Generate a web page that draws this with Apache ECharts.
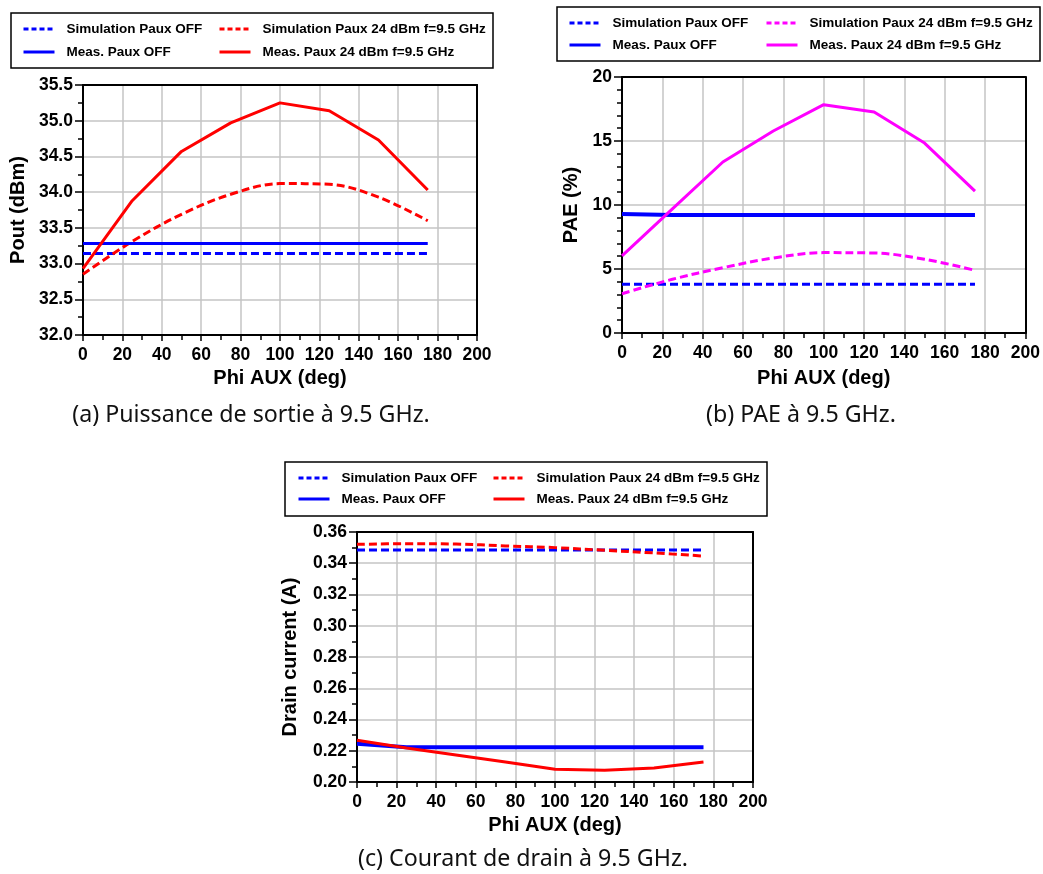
<!DOCTYPE html>
<html><head><meta charset="utf-8">
<script src="https://cdn.jsdelivr.net/npm/echarts@6/dist/echarts.min.js"></script>
<style>
html,body{margin:0;padding:0;background:#fff;width:1043px;height:874px;overflow:hidden;position:relative}
.ch{position:absolute}
.cap{position:absolute;font-family:"Noto Sans",sans-serif;font-size:23.2px;color:#111;white-space:nowrap;transform:translate(-50%,-50%)}
</style></head><body>
<div id="ca" class="ch" style="left:0;top:0;width:520px;height:400px"></div>
<div id="cb" class="ch" style="left:520px;top:0;width:523px;height:400px"></div>
<div id="cc" class="ch" style="left:260px;top:450px;width:520px;height:400px"></div>
<div class="cap" style="left:251px;top:413px">(a) Puissance de sortie à 9.5 GHz.</div>
<div class="cap" style="left:801px;top:413px">(b) PAE à 9.5 GHz.</div>
<div class="cap" style="left:523px;top:857px">(c) Courant de drain à 9.5 GHz.</div>
<script>
// ---- data ----
const seriesNames = ['Simulation Paux OFF', 'Simulation Paux 24 dBm f=9.5 GHz', 'Meas. Paux OFF', 'Meas. Paux 24 dBm f=9.5 GHz'];
const phiAux = [0, 25, 50, 75, 100, 125, 150, 175];
const xTicks = [0, 200, 20];

const poutSimOff  = [33.14, 33.14, 33.14, 33.14, 33.14, 33.14, 33.14, 33.14];
const poutMeasOff = [33.28, 33.28, 33.28, 33.28, 33.28, 33.28, 33.28, 33.28];
const poutSim24   = [32.85, 33.31, 33.69, 33.97, 34.12, 34.11, 33.93, 33.60];
const poutMeas24  = [32.93, 33.88, 34.57, 34.97, 35.25, 35.14, 34.73, 34.03];
const poutTicks = [32.0, 35.5, 0.5];

const paeSimOff  = [3.8, 3.8, 3.8, 3.8, 3.8, 3.8, 3.8, 3.8];
const paeMeasOff = [9.3, 9.22, 9.22, 9.22, 9.22, 9.22, 9.22, 9.22];
const paeSim24   = [3.07, 4.2, 5.1, 5.86, 6.28, 6.25, 5.76, 4.9];
const paeMeas24  = [6.02, 9.69, 13.36, 15.78, 17.84, 17.27, 14.84, 11.09];
const paeTicks = [0, 20, 5];

const idSimOff  = [0.3485, 0.3485, 0.3485, 0.3485, 0.3485, 0.3485, 0.3485, 0.3485];
const idMeasOff = [0.2245, 0.2222, 0.2222, 0.2222, 0.2222, 0.2222, 0.2222, 0.2222];
const idSim24   = [0.3521, 0.3525, 0.3523, 0.3511, 0.3500, 0.3483, 0.3466, 0.3446];
const idMeas24  = [0.2267, 0.2218, 0.2173, 0.2128, 0.2081, 0.2075, 0.2089, 0.2128];
const idTicks = [0.20, 0.36, 0.02];

const BLUE = '#0000ff', RED = '#ff0000', MAG = '#ff00ff';
const FONT = '"Liberation Sans", Arial, sans-serif';

function pairs(xs, ys) { return xs.map((x, i) => [x, ys[i]]); }

function build(cfg) {
  const g = cfg.grid;
  const legendItem = (name, left, top, dashed) => ({
    data: [name], left: left, top: top, orient: 'horizontal', padding: 0,
    itemWidth: 31, itemHeight: 14, selectedMode: false,
    itemStyle: { opacity: 0 },
    lineStyle: dashed ? { type: [5, 3], width: 3 } : { type: 'solid', width: 3 },
    textStyle: { fontFamily: FONT, fontWeight: 'bold', fontSize: 13.5, color: '#000', padding: [0, 0, 0, 7] }
  });
  const L = cfg.legend;
  const mkSeries = (name, data, color, dashed, width, smooth) => ({
    name: name, type: 'line', data: data, symbol: 'none', smooth: smooth ? 0.35 : false,
    lineStyle: { color: color, width: width, type: dashed ? [8, 4] : 'solid' },
    itemStyle: { color: color }, animation: false, z: dashed ? 3 : 4
  });
  const axisLabelStyle = { fontFamily: FONT, fontWeight: 'bold', fontSize: 17.5, color: '#000' };
  return {
    animation: false,
    grid: { left: g[0], top: g[1], width: g[2], height: g[3], containLabel: false },
    legend: [
      legendItem(seriesNames[0], L.x1, L.y1, true),
      legendItem(seriesNames[1], L.x2, L.y1, true),
      legendItem(seriesNames[2], L.x1, L.y2, false),
      legendItem(seriesNames[3], L.x2, L.y2, false)
    ],
    graphic: [{ type: 'rect', shape: { x: L.bx, y: L.by, width: L.bw, height: L.bh },
      style: { fill: 'none', stroke: '#000', lineWidth: 1.5 }, z: -1 }],
    xAxis: [{
      type: 'value', min: xTicks[0], max: xTicks[1], interval: xTicks[2],
      name: 'Phi AUX (deg)', nameLocation: 'middle', nameGap: cfg.xNameGap,
      nameTextStyle: { fontFamily: FONT, fontWeight: 'bold', fontSize: 20, color: '#000' },
      axisLine: { show: true, lineStyle: { color: '#000', width: 2 } },
      axisTick: { show: true, length: 6, lineStyle: { color: '#000', width: 1.5 } },
      minorTick: { show: true, splitNumber: 2, length: 5, lineStyle: { color: '#000', width: 1.5 } },
      axisLabel: Object.assign({ margin: 11 }, axisLabelStyle),
      splitLine: { show: true, lineStyle: { color: '#c4c4c4', width: 1.5 } }
    }, {
      type: 'value', position: 'top', min: xTicks[0], max: xTicks[1],
      axisLine: { show: true, onZero: false, lineStyle: { color: '#000', width: 2 } },
      axisTick: { show: false }, axisLabel: { show: false }, splitLine: { show: false }
    }],
    yAxis: [{
      type: 'value', min: cfg.y[0], max: cfg.y[1], interval: cfg.y[2],
      name: cfg.yName, nameLocation: 'middle', nameGap: cfg.yNameGap, nameRotate: 90,
      nameTextStyle: { fontFamily: FONT, fontWeight: 'bold', fontSize: 20, color: '#000' },
      axisLine: { show: true, lineStyle: { color: '#000', width: 2 } },
      axisTick: { show: true, length: 8, lineStyle: { color: '#000', width: 1.5 } },
      minorTick: { show: true, splitNumber: cfg.yMinor, length: 5, lineStyle: { color: '#000', width: 1.5 } },
      axisLabel: Object.assign({ margin: 10, formatter: v => v.toFixed(cfg.dec) }, axisLabelStyle),
      splitLine: { show: true, lineStyle: { color: '#c4c4c4', width: 1.5 } }
    }, {
      type: 'value', position: 'right', min: cfg.y[0], max: cfg.y[1],
      axisLine: { show: true, onZero: false, lineStyle: { color: '#000', width: 2 } },
      axisTick: { show: false }, axisLabel: { show: false }, splitLine: { show: false }
    }],
    series: [
      mkSeries(seriesNames[0], pairs(phiAux, cfg.d[0]), BLUE, true, 3, false),
      mkSeries(seriesNames[1], pairs(phiAux, cfg.d[1]), cfg.c24, true, 3, true),
      mkSeries(seriesNames[2], pairs(phiAux, cfg.d[2]), BLUE, false, cfg.offW, false),
      mkSeries(seriesNames[3], pairs(phiAux, cfg.d[3]), cfg.c24, false, 3, false)
    ]
  };
}

const opts = {
  ca: { grid: [82, 85, 395, 250], y: poutTicks, yMinor: 2, dec: 1, yName: 'Pout (dBm)', yNameGap: 54, xNameGap: 33,
        d: [poutSimOff, poutSim24, poutMeasOff, poutMeas24], c24: RED, offW: 3,
        legend: { x1: 22, x2: 218, y1: 22, y2: 45, bx: 11, by: 13, bw: 482, bh: 55 } },
  cb: { grid: [102, 77, 405, 256], y: paeTicks, yMinor: 5, dec: 0, yName: 'PAE (%)', yNameGap: 39, xNameGap: 35,
        d: [paeSimOff, paeSim24, paeMeasOff, paeMeas24], c24: MAG, offW: 4,
        legend: { x1: 48, x2: 245, y1: 16, y2: 38, bx: 37, by: 7, bw: 483, bh: 54 } },
  cc: { grid: [97, 82, 396, 250], y: idTicks, yMinor: 2, dec: 2, yName: 'Drain current (A)', yNameGap: 57, xNameGap: 33,
        d: [idSimOff, idSim24, idMeasOff, idMeas24], c24: RED, offW: 4,
        legend: { x1: 37, x2: 232, y1: 21, y2: 42, bx: 25, by: 12, bw: 482, bh: 54 } }
};
Object.keys(opts).forEach(id => {
  const c = echarts.init(document.getElementById(id), null, { renderer: 'canvas' });
  c.setOption(build(opts[id]));
});
</script>
</body></html>
